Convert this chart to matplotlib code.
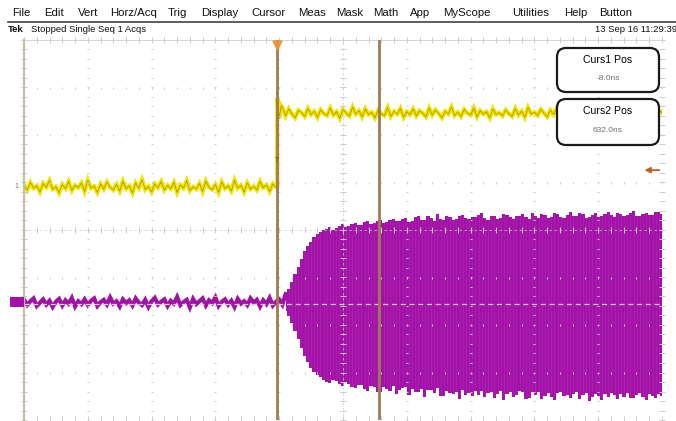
import numpy as np
import matplotlib
matplotlib.use("Agg")
import matplotlib.pyplot as plt
from matplotlib.patches import FancyBboxPatch, Rectangle

plt.rcParams['font.family'] = ['Liberation Sans', 'DejaVu Sans']

# ---------------- data (screen divisions: x -5..5, y -4..4) ----------------
menu_items = ["File", "Edit", "Vert", "Horz/Acq", "Trig", "Display", "Cursor", "Meas",
              "Mask", "Math", "App", "MyScope", "Utilities", "Help", "Button"]
menu_x_px = [12, 44, 78, 110, 168, 201, 251, 298, 336, 373, 410, 443, 512, 564, 599]
status_left = "Stopped Single Seq 1 Acqs"
status_right = "13 Sep 16 11:29:39"

ns_per_div = 400.0
t_zero_div = -1.01
cursor_labels = ["Curs1 Pos", "Curs2 Pos"]
cursor_ns = [-8.0, 632.0]

# CH1 (yellow) - before the edge
ch1_low_start, ch1_low_step = -5.0, 0.05
ch1_low = [0.95, 0.84, 1.00, 0.88, 0.93, 0.80, 0.98, 0.90, 1.04, 0.86,
           0.91, 0.78, 0.96, 0.87, 1.02, 0.83, 0.94, 0.89, 0.99, 0.81,
           1.05, 0.88, 0.92, 0.79, 0.97, 0.86, 1.01, 0.90, 0.84, 0.96,
           0.82, 1.03, 0.87, 0.93, 0.78, 0.99, 0.88, 1.06, 0.85, 0.92,
           0.80, 0.97, 0.89, 1.02, 0.84, 0.94, 0.87, 1.00, 0.79, 0.95,
           0.88, 1.04, 0.83, 0.91, 0.86, 0.98, 0.81, 1.03, 0.90, 0.85,
           0.96, 0.79, 1.01, 0.87, 0.93, 0.82, 1.05, 0.88, 0.94, 0.80,
           0.99, 0.86, 0.92, 0.84, 1.02, 0.89, 0.95, 0.81, 0.97, 0.90]
# CH1 edge
ch1_edge_x = [-1.03, -1.03, -1.00, -0.97]
ch1_edge_y = [0.90, 2.78, 2.35, 2.62]
# CH1 after the edge
ch1_high_start, ch1_high_step = -0.95, 0.05
ch1_high = [2.58, 2.40, 2.55, 2.44, 2.36, 2.52, 2.47, 2.39, 2.56, 2.43,
            2.50, 2.37, 2.53, 2.45, 2.41, 2.57, 2.42, 2.49, 2.35, 2.54,
            2.46, 2.40, 2.59, 2.44, 2.51, 2.38, 2.55, 2.43, 2.48, 2.36,
            2.52, 2.45, 2.41, 2.58, 2.39, 2.50, 2.44, 2.56, 2.37, 2.49,
            2.43, 2.55, 2.40, 2.51, 2.46, 2.38, 2.57, 2.42, 2.53, 2.45,
            2.36, 2.50, 2.44, 2.59, 2.41, 2.48, 2.39, 2.54, 2.46, 2.42,
            2.57, 2.38, 2.51, 2.44, 2.49, 2.36, 2.55, 2.43, 2.47, 2.40,
            2.53, 2.45, 2.39, 2.56, 2.42, 2.50, 2.37, 2.58, 2.44, 2.48,
            2.41, 2.54, 2.46, 2.38, 2.52, 2.43, 2.57, 2.40, 2.49, 2.45,
            2.36, 2.55, 2.42, 2.50, 2.47, 2.39, 2.58, 2.44, 2.51, 2.41,
            2.56, 2.43, 2.48, 2.37, 2.53, 2.45, 2.40, 2.57, 2.42, 2.50,
            2.46, 2.38, 2.54, 2.44, 2.49, 2.41, 2.55, 2.43, 2.52, 2.47]

# CH2 (magenta) - quiet baseline
ch2_base_start, ch2_base_step = -5.0, 0.05
ch2_base = [-1.47, -1.58, -1.50, -1.44, -1.60, -1.53, -1.46, -1.57, -1.49, -1.62,
            -1.51, -1.45, -1.59, -1.48, -1.55, -1.43, -1.61, -1.50, -1.56, -1.46,
            -1.58, -1.49, -1.44, -1.60, -1.52, -1.47, -1.57, -1.42, -1.55, -1.50,
            -1.61, -1.46, -1.54, -1.48, -1.59, -1.44, -1.53, -1.58, -1.47, -1.62,
            -1.50, -1.43, -1.57, -1.51, -1.46, -1.60, -1.49, -1.55, -1.41, -1.58,
            -1.52, -1.47, -1.63, -1.45, -1.56, -1.50, -1.44, -1.59, -1.48, -1.54,
            -1.42, -1.60, -1.51, -1.46, -1.57, -1.49, -1.62, -1.45, -1.55, -1.50,
            -1.58, -1.44, -1.53, -1.47, -1.61, -1.48, -1.56, -1.43, -1.59, -1.51,
            -1.46, -1.57]
ch2_ref_level = -1.55
# CH2 burst envelope, from -0.9 to 5.0 div
ch2_burst_range = (-0.9, 5.0)
ch2_top = [-1.35, -1.25, -1.10, -0.92, -0.78, -0.60, -0.45, -0.33, -0.25, -0.14,
           -0.08, -0.05, 0.00, 0.03, 0.06, 0.01, 0.04, 0.09, 0.12, 0.07,
           0.09, 0.13, 0.15, 0.10, 0.11, 0.17, 0.18, 0.13, 0.14, 0.20,
           0.21, 0.15, 0.16, 0.22, 0.24, 0.18, 0.19, 0.23, 0.26, 0.17,
           0.20, 0.27, 0.29, 0.21, 0.22, 0.30, 0.25, 0.20, 0.33, 0.24,
           0.21, 0.29, 0.27, 0.22, 0.24, 0.30, 0.31, 0.25, 0.23, 0.27,
           0.28, 0.32, 0.35, 0.26, 0.22, 0.30, 0.29, 0.24, 0.26, 0.33,
           0.32, 0.27, 0.24, 0.29, 0.30, 0.34, 0.27, 0.23, 0.36, 0.30,
           0.25, 0.33, 0.31, 0.26, 0.28, 0.35, 0.34, 0.27, 0.26, 0.31,
           0.37, 0.30, 0.29, 0.36, 0.33, 0.26, 0.27, 0.32, 0.35, 0.28,
           0.30, 0.34, 0.38, 0.31, 0.28, 0.36, 0.34, 0.29, 0.31, 0.35,
           0.39, 0.30, 0.29, 0.33, 0.36, 0.31, 0.32, 0.38, 0.37, 0.34]
ch2_bot = [-1.70, -1.80, -1.95, -2.12, -2.30, -2.48, -2.65, -2.78, -2.90, -2.98,
           -3.05, -3.10, -3.15, -3.20, -3.22, -3.16, -3.18, -3.24, -3.28, -3.21,
           -3.24, -3.30, -3.33, -3.26, -3.27, -3.35, -3.38, -3.29, -3.30, -3.40,
           -3.42, -3.31, -3.34, -3.39, -3.29, -3.45, -3.36, -3.32, -3.31, -3.47,
           -3.35, -3.41, -3.40, -3.34, -3.52, -3.37, -3.37, -3.44, -3.33, -3.49,
           -3.49, -3.38, -3.44, -3.46, -3.40, -3.55, -3.36, -3.47, -3.43, -3.50,
           -3.39, -3.48, -3.38, -3.51, -3.44, -3.41, -3.53, -3.46, -3.39, -3.57,
           -3.45, -3.40, -3.52, -3.47, -3.39, -3.42, -3.55, -3.53, -3.41, -3.48,
           -3.40, -3.56, -3.49, -3.44, -3.51, -3.58, -3.43, -3.41, -3.50, -3.47,
           -3.54, -3.45, -3.42, -3.55, -3.48, -3.43, -3.60, -3.52, -3.46, -3.49,
           -3.57, -3.46, -3.52, -3.44, -3.48, -3.56, -3.45, -3.51, -3.44, -3.53,
           -3.53, -3.47, -3.43, -3.51, -3.58, -3.45, -3.49, -3.54, -3.46, -3.50]

trig_level = 1.26

# ---------------- figure ----------------
W, H = 676, 421
fig = plt.figure(figsize=(W / 100, H / 100), dpi=100)
fig.patch.set_facecolor("white")

def P(px, py):
    return px / 100.0, (H - py) / 100.0

tr = fig.dpi_scale_trans

# main graticule axes: px x 24..662, y 40..420
ax = fig.add_axes([24 / W, 1 / H, 638 / W, 380 / H])
ax.set_xlim(-5, 5)
ax.set_ylim(-4, 4)
ax.set_axis_off()

YEL = "#F3E400"
YEL_DARK = "#6E5A12"
MAG = "#A312A7"
MAG_LIGHT = "#C04CC4"
CUR = "#A07A52"

# CH2 burst
bx = np.linspace(ch2_burst_range[0], ch2_burst_range[1], len(ch2_top))
ax.fill_between(bx, ch2_bot, ch2_top, step="mid", color=MAG, lw=0, zorder=2)
ax.vlines(bx, ch2_bot, ch2_top, color=MAG_LIGHT, lw=0.6, alpha=0.28, zorder=2.1)
# CH2 baseline
b0x = ch2_base_start + ch2_base_step * np.arange(len(ch2_base))
ax.plot(np.append(b0x, bx[0]), ch2_base + [ch2_top[0]], color=MAG, lw=3.0,
        solid_joinstyle="miter", zorder=2.2)
ax.plot(b0x, ch2_base, color="#7A2A7E", lw=0.6, alpha=0.45, zorder=2.3)
ax.axhline(ch2_ref_level, color="#EFC6EF", lw=0.9, ls=(0, (4, 3)), zorder=2.5)

# CH1 trace
lx = ch1_low_start + ch1_low_step * np.arange(len(ch1_low))
hx = ch1_high_start + ch1_high_step * np.arange(len(ch1_high))
cx = np.concatenate([lx, ch1_edge_x, hx])
cy = np.concatenate([ch1_low, ch1_edge_y, ch1_high])
ax.plot(cx, cy, color=YEL, lw=3.0, zorder=3, solid_joinstyle="miter")
ax.plot(cx, cy, color=YEL_DARK, lw=0.6, alpha=0.55, zorder=3.1)

# graticule
gcol = "#CBCBCB"
minor_x = np.arange(-5, 5.001, 0.2)
minor_y = np.arange(-4, 4.001, 0.2)
for gx in range(-4, 5):
    if gx == 0:
        continue
    ax.scatter(np.full(minor_y.size, gx), minor_y, marker="_", s=4, lw=0.7,
               color=gcol, zorder=4)
for gy in range(-3, 4):
    if gy == 0:
        continue
    ax.scatter(minor_x, np.full(minor_x.size, gy), marker="|", s=3, lw=0.7,
               color=gcol, zorder=4)
# center cross with ticks
ax.axhline(0, color=gcol, lw=0.6, ls=(0, (3, 3)), zorder=4, alpha=0.8)
ax.axvline(0, color=gcol, lw=0.6, ls=(0, (3, 3)), zorder=4, alpha=0.8)
ax.scatter(minor_x, np.zeros(minor_x.size), marker="|", s=18, lw=0.7, color=gcol, zorder=4)
ax.scatter(np.zeros(minor_y.size), minor_y, marker="_", s=18, lw=0.7, color=gcol, zorder=4)
# border ticks
ax.scatter(minor_x, np.full(minor_x.size, 4.0), marker="|", s=22, lw=0.7, color=gcol, zorder=4, clip_on=False)
ax.scatter(minor_x, np.full(minor_x.size, -3.97), marker="|", s=22, lw=0.7, color=gcol, zorder=4, clip_on=False)
ax.scatter(np.full(minor_y.size, 5.0), minor_y, marker="_", s=22, lw=0.7, color=gcol, zorder=4, clip_on=False)
ax.scatter(np.full(minor_y.size, -5.0), minor_y, marker="_", s=22, lw=0.7, color=gcol, zorder=4, clip_on=False)
ax.plot([-5, 5], [4, 4], color="#D4D4D4", lw=0.7, zorder=4, clip_on=False)
ax.plot([-5, -5], [-4, 4], color="#C7BFA2", lw=1.6, zorder=4, clip_on=False)

# cursors
for ns in cursor_ns:
    xc = t_zero_div + ns / ns_per_div
    ax.axvline(xc, color=CUR, lw=2.0, zorder=5)
x1 = t_zero_div + cursor_ns[0] / ns_per_div
# trigger markers
ax.scatter([x1], [3.9], marker="v", s=40, color="#E89438", zorder=6, clip_on=False)
ax.text(x1, trig_level + 0.2, "T", fontsize=5, color="#8A5A20", ha="center",
        va="center", zorder=6, fontweight="bold")
ax.annotate("", xy=(4.68, trig_level), xytext=(5.0, trig_level),
            arrowprops=dict(arrowstyle="-|>", color="#B8672C", lw=1.4,
                            mutation_scale=8), zorder=6, annotation_clip=False)

# channel markers
fig.text(*P(16, 186), "1", transform=tr, fontsize=5, color="#777777", ha="center", va="center")
fig.patches.append(Rectangle(P(10, 307), 14 / 100, 10 / 100, transform=tr,
                             facecolor=MAG, edgecolor="none", zorder=3))

# cursor readout boxes
boxes = [(557, 48, 92), (557, 99, 145)]
for (bx0, by0, by1), lab, ns in zip(boxes, cursor_labels, cursor_ns):
    fig.patches.append(FancyBboxPatch(P(bx0, by1), 102 / 100, (by1 - by0) / 100,
                                      boxstyle="round,pad=0,rounding_size=0.09",
                                      transform=tr, facecolor="white",
                                      edgecolor="#1A1A1A", lw=1.6, zorder=5))
    cxm = bx0 + 51
    fig.text(*P(cxm, by0 + 12), lab, transform=tr, fontsize=7.6, color="#000000",
             ha="center", va="center", zorder=6)
    fig.text(*P(cxm, by0 + 31), f"{ns:.1f}ns", transform=tr, fontsize=6,
             color="#707070", ha="center", va="center", zorder=6)

# menu bar
for name, mx in zip(menu_items, menu_x_px):
    fig.text(*P(mx, 13), name, transform=tr, fontsize=8.2, color="#111111",
             ha="left", va="center")
fig.add_artist(plt.Line2D([8 / 100, W / 100], [(H - 22) / 100] * 2, transform=tr,
                          color="#444444", lw=1.2))
fig.text(*P(8, 30), "Tek", transform=tr, fontsize=6.8, fontweight="bold",
         color="#111111", ha="left", va="center")
fig.text(*P(31, 30), status_left, transform=tr, fontsize=6.8, color="#111111",
         ha="left", va="center")
fig.text(*P(677, 30), status_right, transform=tr, fontsize=6.8, color="#111111",
         ha="right", va="center")

fig.savefig("out.png", dpi=100)
